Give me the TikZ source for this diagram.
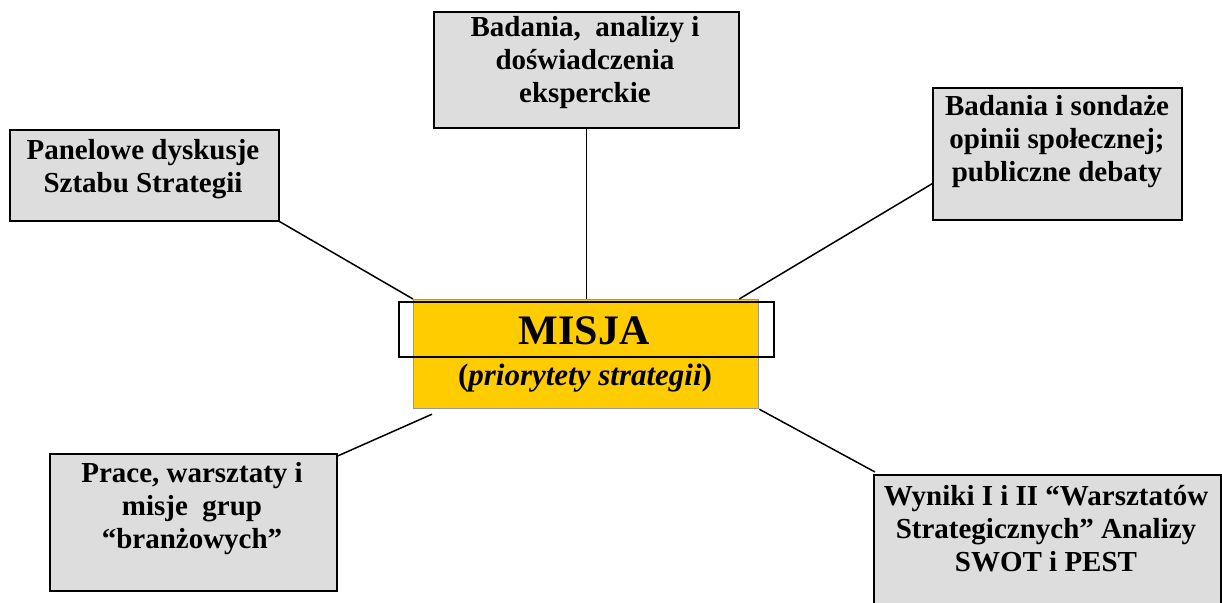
\documentclass[tikz,border=0pt]{standalone}
\usepackage{fontspec}
\setmainfont{Liberation Serif}
\definecolor{boxgray}{HTML}{DDDDDD}
\definecolor{misjayellow}{HTML}{FFCC00}
\definecolor{edgegray}{HTML}{999999}
\newcommand{\boxtext}[2]{\parbox[t]{#1}{\centering\fontsize{29}{33}\selectfont\bfseries #2}}
\begin{document}
\begin{tikzpicture}[x=1pt,y=-1pt,
  infobox/.style={draw=black, line width=1.6pt, fill=boxgray, rectangle,
    inner sep=0pt, anchor=north west},
  boxlabel/.style={anchor=base, inner sep=0pt},
  link/.style={draw=black, line width=1.5pt}]
\useasboundingbox (0,0) rectangle (1222,602);
\begin{scope}
\clip (0,0) rectangle (1222,602);

% surrounding source boxes
\node[infobox, minimum width=269pt, minimum height=91pt] (pb) at (9,129) {};
\node[infobox, minimum width=305pt, minimum height=116pt] (tb) at (433,11) {};
\node[infobox, minimum width=249pt, minimum height=132pt] (rb) at (932,87) {};
\node[infobox, minimum width=287pt, minimum height=137pt] (lb) at (49,453) {};
\node[infobox, minimum width=347pt, minimum height=140pt] (wb) at (873,474) {};

\node[boxlabel] (pbt) at (143,159) {\boxtext{268pt}{Panelowe dyskusje\\Sztabu Strategii}};
\node[boxlabel] (tbt) at (585,37) {\boxtext{300pt}{Badania,\ \ analizy i\\doświadczenia\\eksperckie}};
\node[boxlabel] (rbt) at (1057,115) {\boxtext{248pt}{Badania i sondaże\\opinii społecznej;\\publiczne debaty}};
\node[boxlabel] (lbt) at (192,482) {\boxtext{286pt}{Prace, warsztaty i\\misje\ \ grup\\“branżowych”}};
\node[boxlabel] (wbt) at (1046,505) {\boxtext{346pt}{Wyniki I i II “Warsztatów\\Strategicznych” Analizy\\SWOT i PEST}};

% central box
\node[draw=edgegray, line width=1.2pt, fill=misjayellow, rectangle, inner sep=0pt,
  anchor=north west, minimum width=345pt, minimum height=109pt] (misja) at (413,299) {};
\node[draw=black, line width=1.6pt, rectangle, inner sep=0pt, anchor=north west,
  minimum width=375pt, minimum height=55pt] (frame) at (398,301) {};
\node[anchor=base, inner sep=0pt, font=\fontsize{42}{46}\selectfont\bfseries] (mt) at (584,344) {MISJA};
\node[anchor=base, inner sep=0pt, font=\fontsize{31}{34}\selectfont\bfseries] (st) at (585,385) {(\textit{priorytety strategii})};

% connectors
\draw[link] (tb.south) -- (tb.south |- misja.north);
\draw[link] (pb.south east) -- (misja.north west);
\draw[link] ([xshift=-20pt]misja.north east) -- ([yshift=-30pt]rb.west);
\draw[link] ([xshift=19pt,yshift=-5pt]misja.south west) -- ([yshift=-3pt]lb.north east);
\draw[link] (misja.south east) -- ([xshift=2pt,yshift=2pt]wb.north west);
\end{scope}
\end{tikzpicture}
\end{document}
